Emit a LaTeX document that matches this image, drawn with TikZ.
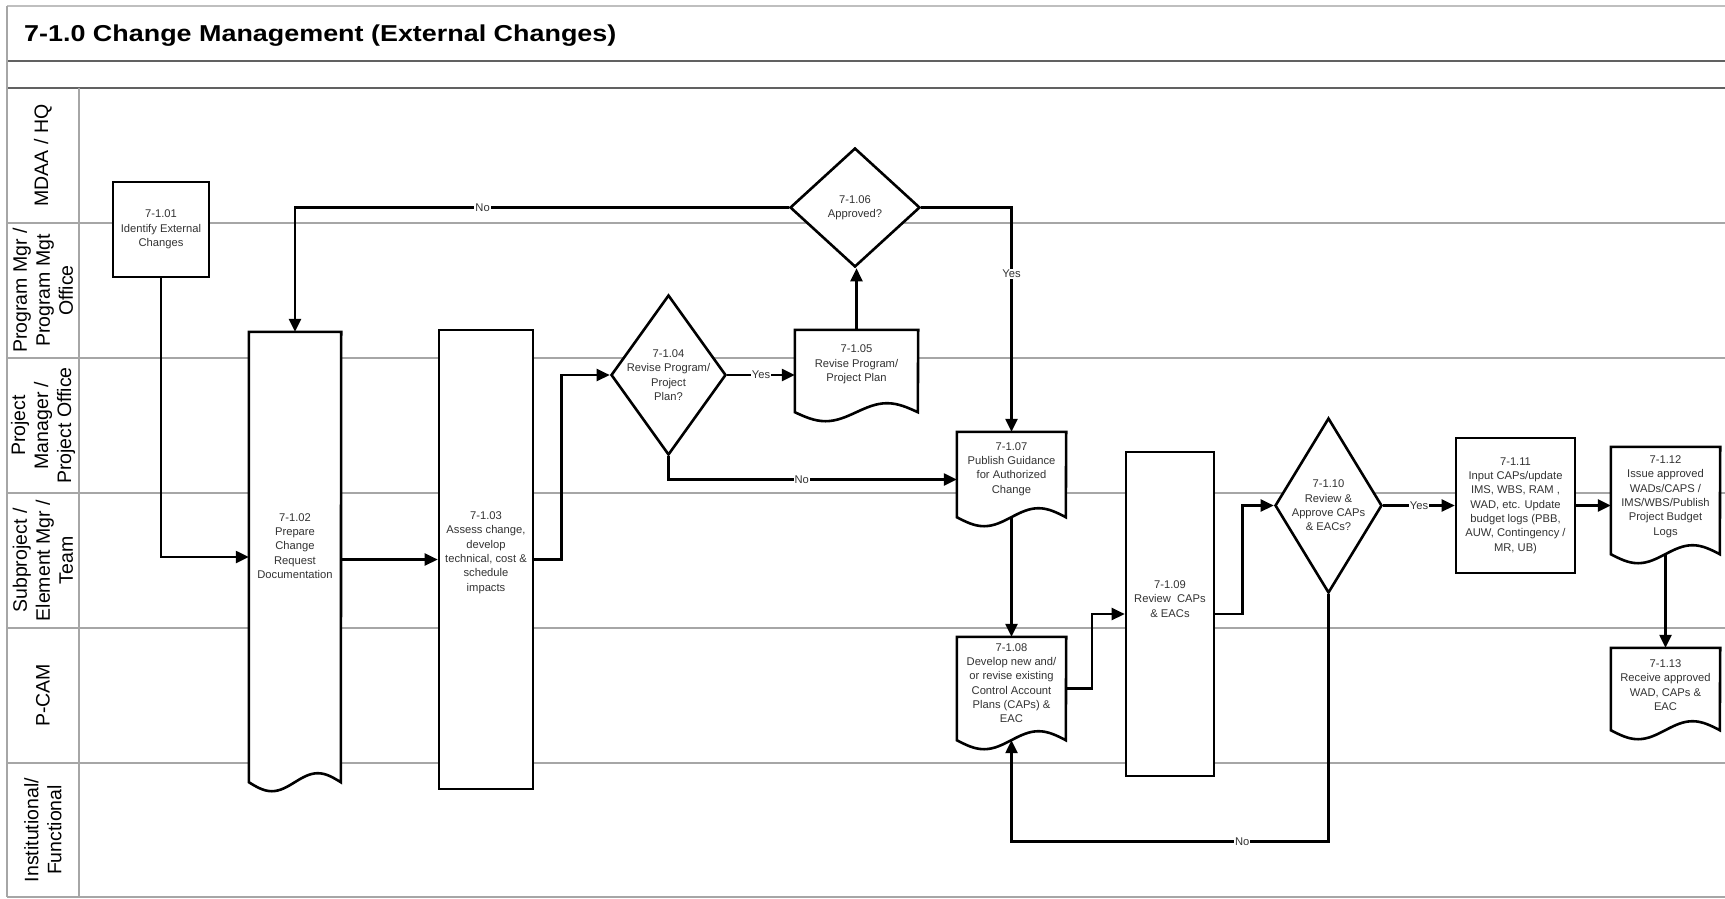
\documentclass[tikz,border=0pt]{standalone}
\usepackage{graphicx}
\usepackage{fontspec}
\setmainfont{Liberation Sans}
\usetikzlibrary{arrows.meta,shapes.geometric}
\newcommand\docoutline[2]{\draw[shp] (#1.north west) -- (#1.south west) sin ++(#2/4,9) cos ++(#2/4,-9) sin ++(#2/4,-9) cos ++(#2/4,9) -- (#1.north east) -- cycle;}
\begin{document}
\begin{tikzpicture}[x=1pt,y=-1pt,
  laneline/.style={draw=black!35, line width=1.6},
  frameline/.style={draw=black!62, line width=1.8},
  shp/.style={draw=black, line width=2.6, fill=white, inner sep=0pt, line join=miter},
  rbox/.style 2 args={shp, rectangle, minimum width=#1, minimum height=#2},
  dbox/.style 2 args={rectangle, inner sep=0pt, minimum width=#1, minimum height=#2},
  dia/.style 2 args={shp, diamond, minimum width=#1, minimum height=#2},
  stxt/.style={font=\fontsize{11.2}{14.3}\selectfont, align=center, inner sep=0pt, text=black!80},
  conn/.style={draw=black, line width=2.4, -{Triangle[length=13pt,width=12pt]}},
  cl/.style={font=\fontsize{11.2}{14}\selectfont, fill=white, inner sep=1pt, text=black!80},
  lanelab/.style={font=\fontsize{19.5}{23}\selectfont, align=center, rotate=90, inner sep=0pt},
]
\useasboundingbox (0,0) rectangle (1725,898);
% frame and lanes
\draw[draw=black!25, line width=1.8] (7,6) -- (1725,6);
\draw[frameline] (7,61) -- (1725,61);
\draw[frameline] (7,88) -- (1725,88);
\foreach \yy in {223,358,493,628,763} \draw[laneline] (7,\yy) -- (1725,\yy);
\draw[laneline] (7,897) -- (1725,897);
\draw[laneline] (7,6) -- (7,897);
\draw[laneline] (79,88) -- (79,897);
\node[anchor=west, inner sep=0pt, font=\bfseries\fontsize{23}{27}\selectfont] (title) at (24,35.5) {\scalebox{1.17}[1]{7-1.0 Change Management (External Changes)}};
\node[lanelab] (l1) at (43,155.5) {MDAA / HQ};
\node[lanelab] (l2) at (43,290.5) {Program Mgr /\\Program Mgt\\Office};
\node[lanelab] (l3) at (43,425.5) {Project\\Manager /\\Project Office};
\node[lanelab] (l4) at (43,560.5) {Subproject /\\Element Mgr /\\Team};
\node[lanelab] (l5) at (43,695.5) {P-CAM};
\node[lanelab] (l6) at (43,830) {Institutional/\\Functional};
% shapes
\node[rbox={96}{95}] (n01) at (161,229.5) {};
\node[dbox={92}{450}] (n02) at (295,557) {};
\docoutline{n02}{92}
\node[rbox={94}{459}] (n03) at (486,559.5) {};
\node[dia={115}{160}] (n04) at (668.5,375) {};
\node[dbox={123}{82}] (n05) at (856.5,371) {};
\docoutline{n05}{123}
\node[dia={130}{119}] (n06) at (855,207.5) {};
\node[dbox={109}{85}] (n07) at (1011.5,474.5) {};
\docoutline{n07}{109}
\node[dbox={109}{103}] (n08) at (1011.5,688.5) {};
\docoutline{n08}{109}
\node[rbox={88}{324}] (n09) at (1170,614) {};
\node[dia={107}{175}] (n10) at (1328.5,505.5) {};
\node[rbox={119}{135}] (n11) at (1515.5,505.5) {};
\node[dbox={109}{107}] (n12) at (1665.5,500.5) {};
\docoutline{n12}{109}
\node[dbox={109}{82}] (n13) at (1665.5,689) {};
\docoutline{n13}{109}
% texts
\node[stxt] (t01) at (n01) {7-1.01\\Identify External\\Changes};
\node[stxt, yshift=11pt] (t02) at (n02) {7-1.02\\Prepare\\Change\\Request\\Documentation};
\node[stxt, yshift=7pt] (t03) at (n03) {7-1.03\\Assess change,\\develop\\technical, cost \&\\schedule\\impacts};
\node[stxt] (t04) at (n04) {7-1.04\\Revise Program/\\Project\\Plan?};
\node[stxt, yshift=6.5pt] (t05) at (n05) {7-1.05\\Revise Program/\\Project Plan};
\node[stxt] (t06) at (n06) {7-1.06\\Approved?};
\node[stxt, yshift=5.5pt] (t07) at (n07) {7-1.07\\Publish Guidance\\for Authorized\\Change};
\node[stxt, yshift=5.5pt] (t08) at (n08) {7-1.08\\Develop new and/\\or revise existing\\Control Account\\Plans (CAPs) \&\\EAC};
\node[stxt, yshift=15pt] (t09) at (n09) {7-1.09\\Review~ CAPs\\\& EACs};
\node[stxt] (t10) at (n10) {7-1.10\\Review \&\\Approve CAPs\\\& EACs?};
\node[stxt] (t11) at (n11) {7-1.11\\Input CAPs/update\\IMS, WBS, RAM ,\\WAD, etc. Update\\budget logs (PBB,\\AUW, Contingency /\\MR, UB)};
\node[stxt, yshift=4pt] (t12) at (n12) {7-1.12\\Issue approved\\WADs/CAPS /\\IMS/WBS/Publish\\Project Budget\\Logs};
\node[stxt, yshift=4pt] (t13) at (n13) {7-1.13\\Receive approved\\WAD, CAPs \&\\EAC};
% connectors
\draw[conn] (n01.south) |- (n02.west);
\draw[conn] (n02.east |- n03.west) -- (n03.west);
\draw[conn] (n03.east) -- ++(27,0) |- (n04.west);
\draw[conn] (n04.east) -- node[cl, pos=0.5] {Yes} (n04.east -| n05.west);
\draw[conn] (n05.north) -- (n05.north |- n06.south);
\draw[conn] (n06.west) -| node[cl, pos=0.31] {No} (n02.north);
\draw[conn] (n06.east) -| node[cl, pos=0.648] {Yes} (n07.north);
\draw[conn] (n04.south) |- node[cl, pos=0.731] {No} ([yshift=-5pt]n07.west);
\draw[conn] (n07.south) -- (n08.north);
\draw[conn] (n08.east) -- ++(26,0) |- (n09.west);
\draw[conn] (n09.east) -- ++(27,0) |- (n10.west);
\draw[conn] (n10.east) -- node[cl, pos=0.5] {Yes} (n11.west);
\draw[conn] (n11.east) -- (n11.east -| n12.west);
\draw[conn] (n12.south) -- (n13.north);
\draw[conn] (n10.south) -- ++(0,247) -| node[cl, pos=0.136] {No} (n08.south);
\end{tikzpicture}
\end{document}
